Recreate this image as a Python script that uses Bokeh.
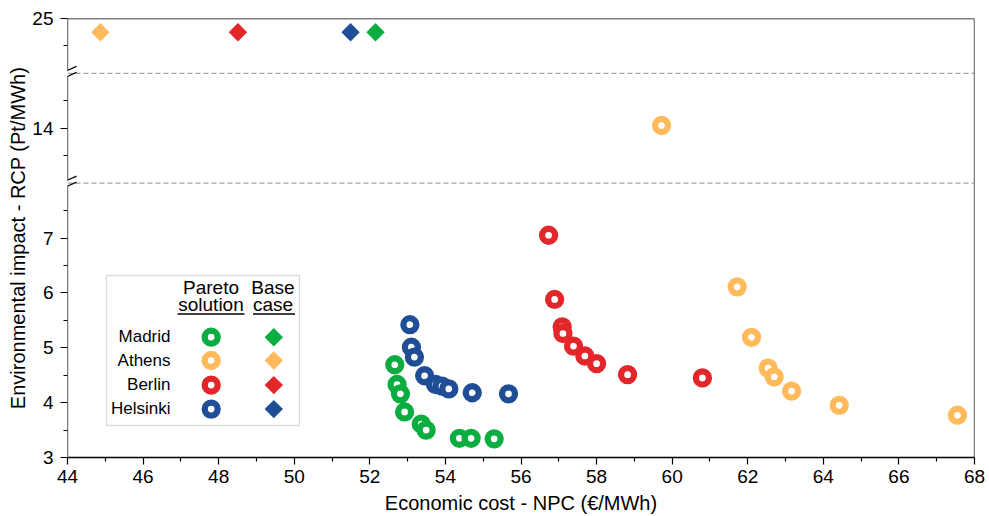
from bokeh.plotting import figure
from bokeh.models import FixedTicker, Arrow, Span, BoxAnnotation, Label
from bokeh.embed import file_html
from bokeh.resources import INLINE
import math

# Pareto fronts: economic cost NPC (EUR/MWh) vs environmental impact RCP (Pt/MWh)
madrid_npc = [52.66, 52.72, 52.81, 52.92, 53.36, 53.49, 54.37, 54.68, 55.29]
madrid_rcp = [4.69, 4.33, 4.16, 3.83, 3.61, 3.50, 3.35, 3.35, 3.34]
athens_npc = [59.72, 61.72, 62.10, 62.54, 62.70, 63.16, 64.42, 67.55]
athens_rcp = [14.05, 6.11, 5.19, 4.63, 4.47, 4.21, 3.95, 3.77]
berlin_npc = [56.73, 56.89, 57.09, 57.11, 57.39, 57.69, 58.00, 58.82, 60.80]
berlin_rcp = [7.05, 5.88, 5.38, 5.26, 5.03, 4.85, 4.71, 4.51, 4.45]
helsinki_npc = [53.06, 53.10, 53.18, 53.45, 53.74, 53.91, 54.09, 54.71, 55.67]
helsinki_rcp = [5.42, 5.01, 4.83, 4.49, 4.33, 4.30, 4.25, 4.18, 4.16]

# Base case per city
cities = ["Madrid", "Athens", "Berlin", "Helsinki"]
base_npc = [52.15, 44.87, 48.51, 51.49]
base_rcp = [24.75, 24.75, 24.75, 24.75]

colors = ["#0BAD40", "#FFBA5C", "#E3262A", "#1F4E96"]

x_ticks = list(range(44, 69, 2))
x_minor = list(range(45, 68, 2))
y_ticks = [3, 4, 5, 6, 7, 14, 25]
y_minor = [3.5, 4.5, 5.5, 6.5, 7.5, 13.5, 14.5, 24.5]

# Broken y axis: visible value windows stacked on one scale
segments = [(3, 8), (13, 15), (24, 25)]


def to_axis(v):
    base = segments[0][0]
    for lo, hi in segments:
        if v <= hi:
            return base + (v - lo)
        base += hi - lo
    return base


breaks = []
acc = segments[0][0]
for lo, hi in segments[:-1]:
    acc += hi - lo
    breaks.append(acc)
y_top = acc + segments[-1][1] - segments[-1][0]

FONT = "Liberation Sans"

p = figure(frame_width=907, frame_height=439, x_range=(44, 68), y_range=(segments[0][0], y_top),
           output_backend="svg", toolbar_location=None,
           min_border_left=67, min_border_right=15, min_border_top=18, min_border_bottom=59)
p.xgrid.visible = False
p.ygrid.visible = False
p.outline_line_color = None
p.background_fill_color = "white"
p.border_fill_color = "white"

for ax in (p.xaxis[0], p.yaxis[0]):
    ax.major_tick_out = 7
    ax.major_tick_in = 0
    ax.minor_tick_out = 4
    ax.minor_tick_in = 0
    ax.major_tick_line_color = "black"
    ax.minor_tick_line_color = "black"
    ax.major_tick_line_width = 1.2
    ax.minor_tick_line_width = 1.2
    ax.major_label_text_font = FONT
    ax.major_label_text_font_size = "19px"
    ax.major_label_text_color = "black"
    ax.axis_label_text_font = FONT
    ax.axis_label_text_font_size = "20px"
    ax.axis_label_text_font_style = "normal"
    ax.axis_label_text_color = "black"

p.xaxis.ticker = FixedTicker(ticks=x_ticks, minor_ticks=x_minor)
p.xaxis.axis_line_color = "black"
p.xaxis.axis_line_width = 1.3
p.xaxis.axis_label = "Economic cost - NPC (€/MWh)"
p.xaxis.axis_label_standoff = 6

y_pos = [to_axis(v) for v in y_ticks]
p.yaxis.ticker = FixedTicker(ticks=y_pos, minor_ticks=[to_axis(v) for v in y_minor])
p.yaxis.major_label_overrides = {pos: str(v) for pos, v in zip(y_pos, y_ticks)}
p.yaxis.major_label_standoff = 7
p.yaxis.axis_line_color = None
p.yaxis.axis_label = "Environmental impact - RCP (Pt/MWh)"
p.yaxis.axis_label_standoff = 0

# frame: left axis line with gaps at the breaks, top and right borders
px_x = 907 / 24.0
px_y = 439 / (y_top - segments[0][0])
gap = 3 / px_y
stops = [segments[0][0]]
for b in breaks:
    stops += [b - gap, b + gap]
stops.append(y_top)
for a, b in zip(stops[0::2], stops[1::2]):
    p.add_layout(Arrow(start=None, end=None, x_start=44, y_start=a, x_end=44, y_end=b,
                       line_color="black", line_width=1.3))
p.add_layout(Arrow(start=None, end=None, x_start=44, y_start=y_top, x_end=68, y_end=y_top,
                   line_color="black", line_width=1.3))
p.add_layout(Arrow(start=None, end=None, x_start=68, y_start=segments[0][0], x_end=68, y_end=y_top,
                   line_color="black", line_width=1.3))

# break markers and dashed separators
dx = 9 / px_x
dy = 4 / px_y
for b in breaks:
    p.add_layout(Span(location=b, dimension="width", line_color="#a3a3a3",
                      line_width=1.2, line_dash="5 3"))
    for off in (-gap, gap):
        p.add_layout(Arrow(start=None, end=None,
                           x_start=44 - dx, y_start=b + off - dy,
                           x_end=44 + dx, y_end=b + off + dy,
                           line_color="black", line_width=1.2))

# Pareto solutions (rings) and base cases (diamonds)
ring = dict(marker="circle", size=13, line_width=6.3, fill_color="white")
fronts = [(madrid_npc, madrid_rcp), (athens_npc, athens_rcp),
          (berlin_npc, berlin_rcp), (helsinki_npc, helsinki_rcp)]
for (xs, ys), c in zip(fronts, colors):
    p.scatter(xs, [to_axis(v) for v in ys], line_color=c, **ring)

diamond = dict(marker="square", size=13, angle=math.pi / 4, line_width=0)
p.scatter(base_npc, [to_axis(v) for v in base_rcp], fill_color=colors, **diamond)

# legend panel (positions in screen pixels converted to data units)
def lx(px):
    return 44 + (px - 67) / px_x


def ly(py):
    return segments[0][0] + (457 - py) / px_y


p.add_layout(BoxAnnotation(left=lx(106), right=lx(299), top=ly(275), bottom=ly(425),
                           fill_color=None, line_color="#8c8c8c", line_width=1.3))
for txt, cx, by in [("Pareto", 210.5, 286.5), ("solution", 210.5, 303.5),
                    ("Base", 272.5, 286.5), ("case", 272.5, 303.5)]:
    p.add_layout(Label(x=lx(cx), y=ly(by), text=txt, text_align="center",
                       text_baseline="alphabetic", text_font=FONT,
                       text_font_size="19px", text_color="black"))
for x0, x1 in [(177, 244), (252.5, 294.5)]:
    p.add_layout(Arrow(start=None, end=None, x_start=lx(x0), y_start=ly(313.5),
                       x_end=lx(x1), y_end=ly(313.5), line_color="black", line_width=1.3))

row_mid = [336.7, 360.0, 384.6, 408.6]
for name, c, rm in zip(cities, colors, row_mid):
    p.add_layout(Label(x=lx(170), y=ly(rm - 0.5), text=name, text_align="right",
                       text_baseline="alphabetic", text_font=FONT,
                       text_font_size="17px", text_color="black"))
p.scatter([lx(210.7)] * 4, [ly(r) for r in row_mid], line_color=colors, **ring)
p.scatter([lx(273.3)] * 4, [ly(r) for r in row_mid], fill_color=colors, **diamond)

open("out.html", "w").write(file_html(p, INLINE))
